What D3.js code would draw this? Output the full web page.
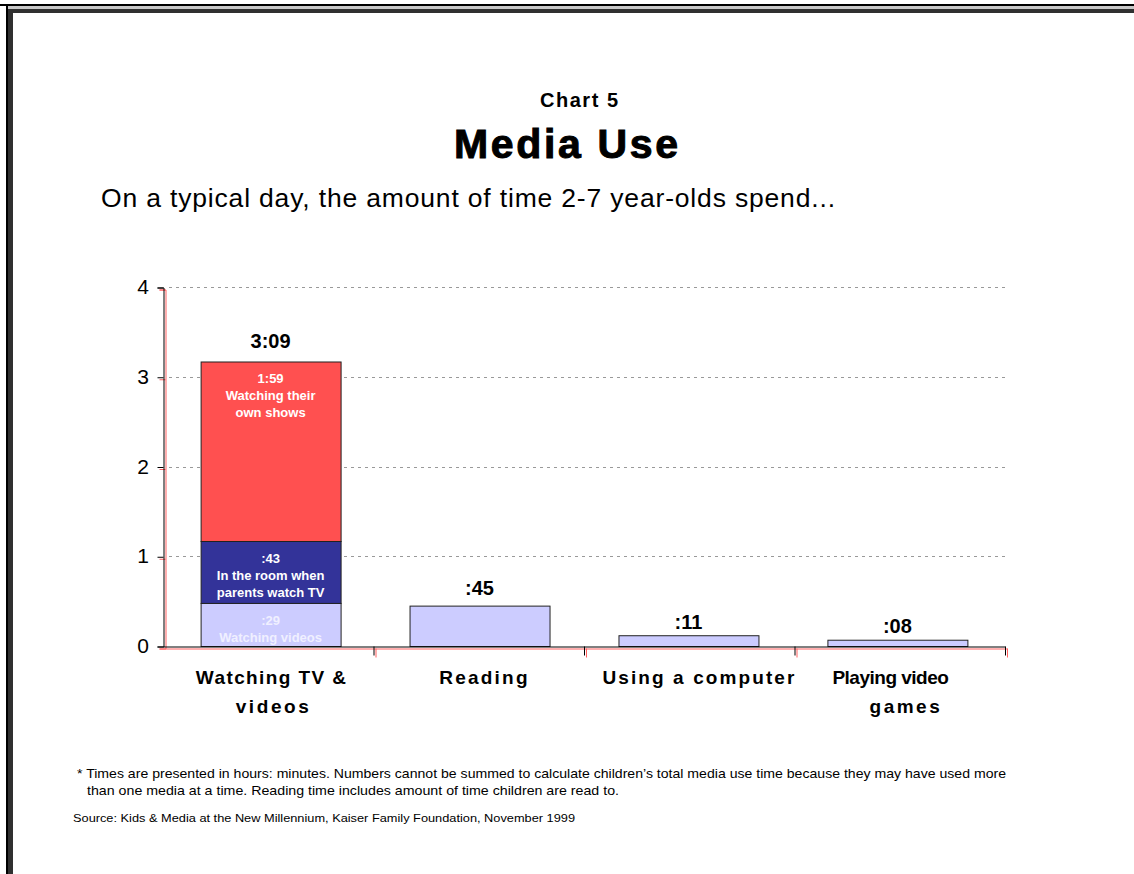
<!DOCTYPE html>
<html>
<head>
<meta charset="utf-8">
<script src="https://cdn.jsdelivr.net/npm/d3@7"></script>
<style>
  html, body { margin: 0; padding: 0; background: #fff; }
  svg { display: block; font-family: "Liberation Sans", Arial, sans-serif; }
</style>
</head>
<body>
<svg id="chart" width="1134" height="874"></svg>
<script>
// chart values (hours)
var categories = ['Watching TV & videos', 'Reading', 'Using a computer', 'Playing video games'];
var categoryLines = [['Watching TV &', 'videos'], ['Reading'], ['Using a computer'], ['Playing video', 'games']];
var tvSegmentNames = ['Watching videos', 'In the room when parents watch TV', 'Watching their own shows'];
var tvSegmentValues = [0.48, 0.69, 2.0];
var tvSegmentLabels = [[':29', 'Watching videos'], [':43', 'In the room when', 'parents watch TV'], ['1:59', 'Watching their', 'own shows']];
var otherValues = [0.45, 0.12, 0.07];
var totalLabels = ['3:09', ':45', ':11', ':08'];
var yTicks = [0, 1, 2, 3, 4];

(function () {
  'use strict';

  var svg = d3.select('#chart');
  var left = 163, right = 1005, top = 287, bottom = 646;

  var segColor = ['#ccccff', '#333399', '#ff5050'];
  var segText = ['#f0f0ff', '#ffffff', '#ffffff'];

  // frame
  svg.append('rect').attr('x', 0).attr('y', 4).attr('width', 1134).attr('height', 2).attr('fill', '#000');
  svg.append('rect').attr('x', 6).attr('y', 6).attr('width', 1128).attr('height', 3).attr('fill', '#c8c8c8');
  svg.append('rect').attr('x', 6).attr('y', 9).attr('width', 1128).attr('height', 4).attr('fill', '#303030');
  svg.append('rect').attr('x', 6).attr('y', 4).attr('width', 2).attr('height', 870).attr('fill', '#000');
  svg.append('rect').attr('x', 8).attr('y', 9).attr('width', 5).attr('height', 865).attr('fill', '#303030');

  // titles
  svg.append('text').attr('x', 540).attr('y', 107)
    .attr('font-size', 20).attr('font-weight', 'bold')
    .attr('textLength', 78).attr('lengthAdjust', 'spacing').text('Chart 5');
  svg.append('text').attr('x', 454).attr('y', 158)
    .attr('font-size', 41).attr('font-weight', 'bold').attr('stroke', '#000').attr('stroke-width', 1)
    .attr('textLength', 224).attr('lengthAdjust', 'spacing')
    .text('Media Use');
  svg.append('text').attr('x', 101).attr('y', 207)
    .attr('font-size', 26.5).attr('textLength', 734).attr('lengthAdjust', 'spacing')
    .text('On a typical day, the amount of time 2-7 year-olds spend...');

  var y = d3.scaleLinear().domain([0, 4]).range([bottom, top]);
  var x = d3.scaleBand().domain(categories).range([left, right])
    .paddingInner(0.33).paddingOuter(0.18);
  var xEdge = d3.scaleLinear().domain([0, categories.length]).range([left, right]);

  // grid
  svg.append('g').selectAll('line')
    .data(yTicks.filter(function (t) { return t > 0; }))
    .enter().append('line')
    .attr('x1', left + 6).attr('x2', right)
    .attr('y1', function (d) { return Math.round(y(d)) + 0.5; })
    .attr('y2', function (d) { return Math.round(y(d)) + 0.5; })
    .attr('stroke', '#999').attr('stroke-dasharray', '3,4');

  // TV stacked bar
  var tvData = [];
  var acc = 0;
  tvSegmentValues.forEach(function (v, i) {
    tvData.push({ name: tvSegmentNames[i], y0: acc, y1: acc + v, lines: tvSegmentLabels[i], i: i });
    acc += v;
  });

  var bars = svg.append('g');
  bars.selectAll('rect.tv')
    .data(tvData)
    .enter().append('rect')
    .attr('class', 'tv')
    .attr('x', x(categories[0]) + 0.5)
    .attr('width', x.bandwidth())
    .attr('y', function (d) { return y(d.y1) + 0.5; })
    .attr('height', function (d) { return y(d.y0) - y(d.y1); })
    .attr('fill', function (d) { return segColor[d.i]; })
    .attr('stroke', '#222').attr('stroke-width', 1);

  var others = otherValues.map(function (v, i) { return { cat: categories[i + 1], value: v }; });
  bars.selectAll('rect.other')
    .data(others)
    .enter().append('rect')
    .attr('class', 'other')
    .attr('x', function (d) { return x(d.cat) + 0.5; })
    .attr('width', x.bandwidth())
    .attr('y', function (d) { return y(d.value) + 0.5; })
    .attr('height', function (d) { return y(0) - y(d.value); })
    .attr('fill', segColor[0])
    .attr('stroke', '#222').attr('stroke-width', 1);

  // segment labels
  tvData.forEach(function (d) {
    var t = svg.append('text')
      .attr('text-anchor', 'middle')
      .attr('font-size', 13).attr('font-weight', 'bold')
      .attr('fill', segText[d.i]);
    d.lines.forEach(function (line, k) {
      t.append('tspan')
        .attr('x', x(categories[0]) + x.bandwidth() / 2)
        .attr('y', y(d.y1) + 22 + k * 17)
        .text(line);
    });
  });

  // total labels
  var totals = [acc].concat(otherValues);
  var labelGap = [13, 11, 6, 7];
  svg.append('g').selectAll('text')
    .data(totals)
    .enter().append('text')
    .attr('x', function (d, i) { return x(categories[i]) + x.bandwidth() / 2; })
    .attr('y', function (d, i) { return y(d) - labelGap[i]; })
    .attr('text-anchor', 'middle')
    .attr('font-size', 20).attr('font-weight', 'bold')
    .text(function (d, i) { return totalLabels[i]; });

  // axes: red shadow then black
  function drawAxes(color, dx, dy) {
    var g = svg.append('g').attr('transform', 'translate(' + dx + ',' + dy + ')');
    var ya = g.append('g').attr('transform', 'translate(' + (left + 0.5) + ',0.5)')
      .call(d3.axisLeft(y).tickValues(yTicks).tickSize(6).tickFormat(''));
    var xa = g.append('g').attr('transform', 'translate(0,' + (bottom + 0.5) + ')')
      .call(d3.axisBottom(xEdge).tickValues([1, 2, 3, 4]).tickSize(9).tickSizeOuter(0).tickFormat(''));
    [ya, xa].forEach(function (a) {
      a.select('.domain').attr('stroke', color);
      a.selectAll('.tick line').attr('stroke', color);
    });
  }
  drawAxes('#ff6060', 2, 2);
  drawAxes('#000', 0, 0);

  // y tick labels
  svg.append('g').selectAll('text')
    .data(yTicks)
    .enter().append('text')
    .attr('x', 149).attr('y', function (d) { return y(d) + 7; })
    .attr('text-anchor', 'end')
    .attr('font-size', 21)
    .text(function (d) { return d; });

  // category labels
  var lineOffsets = [[1, 3], [5], [11], [-7, 8.5]];
  var lineSpacing = [[1.4, 2.6], [2.2], [2.1], [-0.5, 2.5]];
  categoryLines.forEach(function (lines, i) {
    var t = svg.append('text')
      .attr('text-anchor', 'middle')
      .attr('font-size', 19).attr('font-weight', 'bold');
    lines.forEach(function (line, k) {
      t.append('tspan')
        .attr('x', x(categories[i]) + x.bandwidth() / 2 + lineOffsets[i][k])
        .attr('y', 684 + k * 29)
        .attr('letter-spacing', lineSpacing[i][k])
        .text(line);
    });
  });

  // notes
  svg.append('text').attr('x', 77).attr('y', 778).attr('font-size', 13.5)
    .attr('textLength', 929).attr('lengthAdjust', 'spacingAndGlyphs')
    .text('* Times are presented in hours: minutes. Numbers cannot be summed to calculate children\u2019s total media use time because they may have used more');
  svg.append('text').attr('x', 87).attr('y', 795).attr('font-size', 13.5)
    .attr('textLength', 532).attr('lengthAdjust', 'spacingAndGlyphs')
    .text('than one media at a time.  Reading time includes amount of time children are read to.');
  svg.append('text').attr('x', 73).attr('y', 822).attr('font-size', 11)
    .attr('textLength', 502).attr('lengthAdjust', 'spacingAndGlyphs')
    .text('Source:  Kids & Media at the New Millennium, Kaiser Family Foundation, November 1999');
})();
</script>
</body>
</html>
